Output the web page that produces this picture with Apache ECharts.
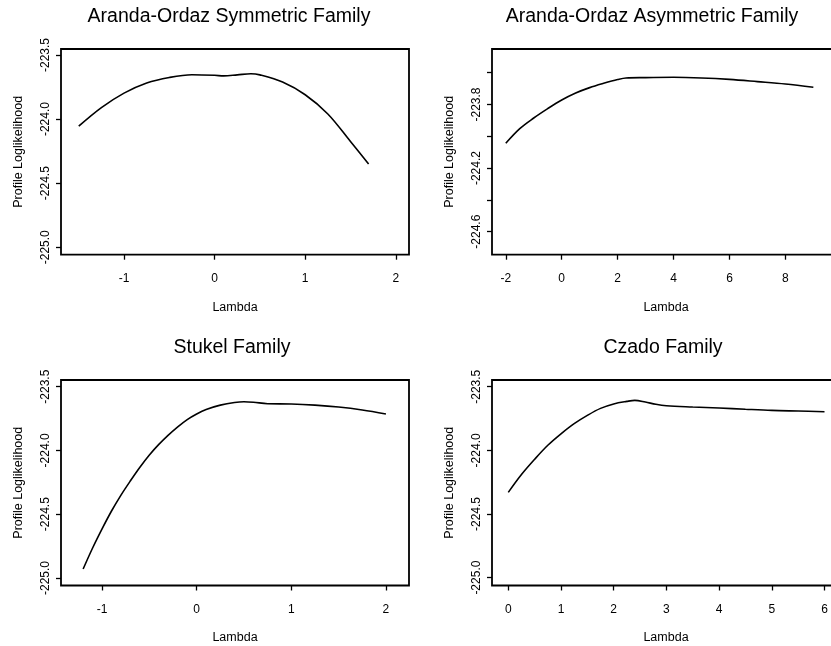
<!DOCTYPE html>
<html>
<head>
<meta charset="utf-8">
<script src="https://cdn.jsdelivr.net/npm/echarts@6/dist/echarts.min.js"></script>
<style>
html,body{margin:0;padding:0;background:#fff;}
#chart{width:831px;height:646px;}
</style>
</head>
<body>
<div id="chart"></div>
<script>
// ---------- data ----------
const titles = ['Aranda-Ordaz Symmetric Family', 'Aranda-Ordaz Asymmetric Family', 'Stukel Family', 'Czado Family'];
const xAxisName = 'Lambda';
const yAxisName = 'Profile Loglikelihood';

const symLambda = [-1.5, -1.25, -1.0, -0.75, -0.5, -0.25, 0, 0.1, 0.25, 0.4, 0.5, 0.75, 1.0, 1.25, 1.5, 1.7];
const symLogLik = [-224.055, -223.91, -223.797, -223.718, -223.675, -223.654, -223.658, -223.663, -223.655, -223.646, -223.655, -223.711, -223.81, -223.96, -224.175, -224.35];

const asymLambda = [-2, -1.5, -1, -0.5, 0, 0.5, 1, 1.5, 2, 2.3, 3, 4, 5, 6, 7, 8, 9];
const asymLogLik = [-224.044, -223.952, -223.885, -223.826, -223.772, -223.728, -223.694, -223.667, -223.643, -223.633, -223.631, -223.629, -223.633, -223.642, -223.656, -223.671, -223.692];

const stukelLambda = [-1.2, -1.1, -1.0, -0.9, -0.8, -0.7, -0.6, -0.5, -0.4, -0.3, -0.2, -0.1, 0, 0.1, 0.25, 0.4, 0.5, 0.6, 0.75, 1.0, 1.25, 1.5, 1.75, 2.0];
const stukelLogLik = [-224.93, -224.765, -224.615, -224.475, -224.35, -224.238, -224.132, -224.036, -223.953, -223.88, -223.815, -223.758, -223.714, -223.679, -223.645, -223.624, -223.618, -223.622, -223.634, -223.636, -223.645, -223.66, -223.683, -223.714];

const czadoLambda = [0, 0.25, 0.5, 0.75, 1.0, 1.25, 1.5, 1.75, 2.0, 2.25, 2.4, 2.6, 2.8, 3.0, 3.5, 4, 4.5, 5, 5.5, 6];
const czadoLogLik = [-224.33, -224.19, -224.07, -223.96, -223.87, -223.79, -223.725, -223.67, -223.635, -223.615, -223.607, -223.62, -223.638, -223.649, -223.659, -223.667, -223.677, -223.686, -223.691, -223.696];

const symXTicks = [-1, 0, 1, 2];
const asymXTicks = [-2, 0, 2, 4, 6, 8];
const stukelXTicks = [-1, 0, 1, 2];
const czadoXTicks = [0, 1, 2, 3, 4, 5, 6];
const yTicks = [-225.0, -224.5, -224.0, -223.5];
const asymYTicks = [-224.6, -224.4, -224.2, -224.0, -223.8, -223.6];
const asymYLabels = [-224.6, -224.2, -223.8];

// ---------- layout ----------
const FONT = '"Liberation Sans", Arial, Helvetica, sans-serif';
const panels = [
  {left: 61, top: 49, width: 348, height: 205.7, xmin: -1.696, xmax: 2.146, ymin: -225.058, ymax: -223.453, tx: 229,
   x: symLambda, y: symLogLik, xt: symXTicks, yt: yTicks, yl: yTicks},
  {left: 492, top: 49, width: 348, height: 205.7, xmin: -2.493, xmax: 9.953, ymin: -224.745, ymax: -223.451, tx: 652,
   x: asymLambda, y: asymLogLik, xt: asymXTicks, yt: asymYTicks, yl: asymYLabels},
  {left: 61, top: 380, width: 348, height: 205.5, xmin: -1.434, xmax: 2.244, ymin: -225.059, ymax: -223.448, tx: 232,
   x: stukelLambda, y: stukelLogLik, xt: stukelXTicks, yt: yTicks, yl: yTicks},
  {left: 492, top: 380, width: 348, height: 205.5, xmin: -0.309, xmax: 6.294, ymin: -225.062, ymax: -223.447, tx: 663,
   x: czadoLambda, y: czadoLogLik, xt: czadoXTicks, yt: yTicks, yl: yTicks}
];

const grids = [], xAxes = [], yAxes = [], series = [], graphics = [];
panels.forEach((p, i) => {
  grids.push({left: p.left, top: p.top, width: p.width, height: p.height, show: true,
    borderColor: '#000', borderWidth: 1.8, backgroundColor: 'transparent', containLabel: false, outerBoundsMode: 'none'});
  xAxes.push({type: 'value', gridIndex: i, min: p.xmin, max: p.xmax, position: 'bottom',
    name: xAxisName, nameLocation: 'middle', nameGap: 46,
    nameTextStyle: {fontFamily: FONT, fontSize: 12.5, color: '#000'},
    axisLine: {show: false, onZero: false},
    axisTick: {show: true, inside: false, length: 5, lineStyle: {color: '#000', width: 1.3}, customValues: p.xt},
    axisLabel: {show: true, margin: 18, fontFamily: FONT, fontSize: 12, color: '#000', customValues: p.xt,
      formatter: v => String(v)},
    splitLine: {show: false}});
  yAxes.push({type: 'value', gridIndex: i, min: p.ymin, max: p.ymax, position: 'left',
    name: yAxisName, nameLocation: 'middle', nameGap: 36,
    nameTextStyle: {fontFamily: FONT, fontSize: 12.5, color: '#000'},
    axisLine: {show: false, onZero: false},
    axisTick: {show: true, inside: false, length: 5, lineStyle: {color: '#000', width: 1.3}, customValues: p.yt},
    axisLabel: {show: true, rotate: 90, margin: 9, fontFamily: FONT, fontSize: 12, color: '#000', customValues: p.yl,
      formatter: v => Number(v).toFixed(1)},
    splitLine: {show: false}});
  series.push({type: 'line', xAxisIndex: i, yAxisIndex: i, showSymbol: false, symbol: 'none',
    smooth: 0.35,
    lineStyle: {color: '#000', width: 1.6}, data: p.x.map((v, k) => [v, p.y[k]])});
  graphics.push({type: 'text', x: p.tx, y: p.top - 32,
    style: {text: titles[i], fontFamily: FONT, fontSize: 19.5, fill: '#000', textAlign: 'center', textVerticalAlign: 'middle'}});
});

const chart = echarts.init(document.getElementById('chart'), null, {renderer: 'canvas'});
chart.setOption({
  animation: false,
  backgroundColor: '#fff',
  grid: grids, xAxis: xAxes, yAxis: yAxes, series: series,
  graphic: graphics
});
</script>
</body>
</html>
